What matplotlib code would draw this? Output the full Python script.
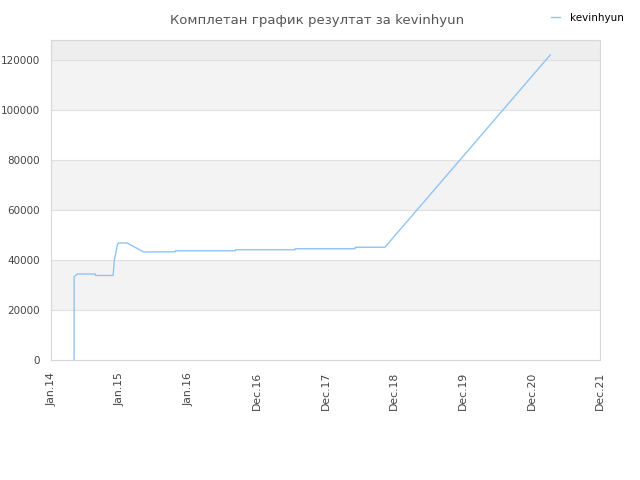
import numpy as np
import pandas as pd
import matplotlib
matplotlib.use('Agg')
import matplotlib.pyplot as plt

# dane
daty = ['2014-05-04', '2014-05-04', '2014-05-04', '2014-05-04', '2014-05-22', '2014-08-25',
        '2014-08-26', '2014-11-27', '2014-12-04', '2014-12-20', '2014-12-25', '2015-02-10',
        '2015-05-09', '2015-10-24', '2015-10-25', '2016-09-07', '2016-09-08', '2017-07-22',
        '2017-07-23', '2018-06-06', '2018-06-07', '2018-11-12', '2021-04-09']
wyniki = [0, 16800, 25300, 33300, 34400, 34400,
          33800, 33800, 40000, 46000, 46800, 46800,
          43200, 43300, 43700, 43700, 44100, 44100,
          44500, 44500, 45100, 45100, 122000]
gracz = 'kevinhyun'

start = pd.Timestamp('2014-01-01')
ticki = [start + pd.Timedelta(days=365 * i) for i in range(9)]
etykiety = [t.strftime('%b') + '.' + t.strftime('%y') for t in ticki]

fig = plt.figure(figsize=(6.4, 4.8), dpi=100)
ax = fig.add_axes([51 / 640, 120 / 480, 549 / 640, 320 / 480])

# pasy tla
for dol in [20000, 60000, 100000]:
    ax.axhspan(dol, dol + 20000, color='#f3f3f3', zorder=0, lw=0)
ax.axhspan(120000, 128000, color='#eeeeee', zorder=0, lw=0)
for g in range(20000, 128000, 20000):
    ax.axhline(g, color='#e0e0e0', lw=0.8, zorder=1)

x = pd.to_datetime(daty)
ax.plot(x, wyniki, color='#90c4f4', lw=1.0, label=gracz, zorder=2)

ax.set_xlim(ticki[0], ticki[-1])
ax.set_ylim(0, 128000)
ax.set_xticks(ticki)
ax.set_xticklabels(etykiety, rotation=90, fontsize=7.8, color='#444444')
ax.set_yticks(range(0, 128000, 20000))
ax.set_yticklabels([str(v) for v in range(0, 128000, 20000)], fontsize=7.5, color='#444444')
ax.tick_params(axis='x', length=0, pad=8.5)
ax.tick_params(axis='y', length=0, pad=8)
for s in ax.spines.values():
    s.set_color('#d8d8d8')

fig.text(0.496, 0.971, 'Комплетан график резултат за kevinhyun', ha='center', va='top',
         fontsize=9.5, color='#555555')
fig.legend(loc='upper right', bbox_to_anchor=(0.99, 0.993), frameon=False, fontsize=7.5,
           handlelength=0.9, handletextpad=1.0)

plt.savefig('out.png', dpi=100)
